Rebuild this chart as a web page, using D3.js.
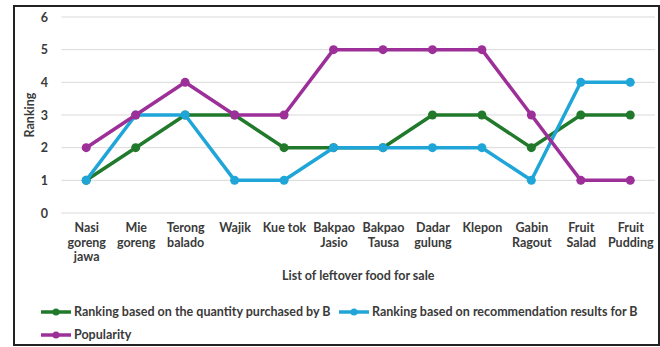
<!DOCTYPE html>
<html>
<head>
<meta charset="utf-8">
<script src="https://cdn.jsdelivr.net/npm/d3@7"></script>
<style>
  html, body { margin: 0; padding: 0; background: #fff; }
  svg { display: block; }
  text { font-family: Lato, "Noto Sans", sans-serif; font-weight: 700; fill: #3a3a3a; }
</style>
</head>
<body>
<svg id="chart" width="660" height="347"></svg>
<script>
// Food items (x categories); line breaks as shown under the axis
const categories = [
  ["Nasi", "goreng", "jawa"],
  ["Mie", "goreng"],
  ["Terong", "balado"],
  ["Wajik"],
  ["Kue tok"],
  ["Bakpao", "Jasio"],
  ["Bakpao", "Tausa"],
  ["Dadar", "gulung"],
  ["Klepon"],
  ["Gabin", "Ragout"],
  ["Fruit", "Salad"],
  ["Fruit", "Pudding"]
];

const quantityRanking = [1, 2, 3, 3, 2, 2, 2, 3, 3, 2, 3, 3];
const recommendationRanking = [1, 3, 3, 1, 1, 2, 2, 2, 2, 1, 4, 4];
const popularity = [2, 3, 4, 3, 3, 5, 5, 5, 5, 3, 1, 1];

const yTicks = [0, 1, 2, 3, 4, 5, 6];

const seriesNames = [
  "Ranking based on the quantity purchased by B",
  "Ranking based on recommendation results for B",
  "Popularity"
];
const seriesColors = ["#217a2b", "#1fa5d8", "#9c2f98"];
const seriesValues = [quantityRanking, recommendationRanking, popularity];

const FONT = 12.5;
const svg = d3.select("#chart");

// Outer frame
svg.append("rect")
  .attr("x", 14).attr("y", 6)
  .attr("width", 645).attr("height", 339)
  .attr("fill", "#fff")
  .attr("stroke", "#222").attr("stroke-width", 2);

const plot = { left: 61.5, right: 655, top: 17, bottom: 213 };

const x = d3.scalePoint()
  .domain(d3.range(categories.length))
  .range([plot.left, plot.right])
  .padding(0.5);

const y = d3.scaleLinear()
  .domain([0, 6])
  .range([plot.bottom, plot.top]);

// Horizontal gridlines
svg.append("g")
  .selectAll("line")
  .data(yTicks)
  .join("line")
  .attr("x1", plot.left).attr("x2", plot.right)
  .attr("y1", d => y(d)).attr("y2", d => y(d))
  .attr("stroke", "#d9d9d9").attr("stroke-width", 1);

// Y axis labels
const yAxis = d3.axisLeft(y).tickValues(yTicks).tickFormat(d3.format("d")).tickSize(0).tickPadding(0);
const gy = svg.append("g").attr("transform", `translate(48,0)`).call(yAxis);
gy.select(".domain").remove();
gy.selectAll("text")
  .attr("font-size", FONT)
  .attr("font-family", "Lato, 'Noto Sans', sans-serif")
  .attr("font-weight", 700)
  .attr("fill", "#3a3a3a");

svg.append("text")
  .attr("transform", `translate(34,115) rotate(-90)`)
  .attr("text-anchor", "middle")
  .attr("font-size", FONT)
  .text("Ranking");

// X axis category labels
const xAxis = d3.axisBottom(x).tickSize(0).tickFormat(() => "");
const gx = svg.append("g").attr("transform", `translate(0,${plot.bottom})`).call(xAxis);
gx.select(".domain").remove();
gx.selectAll(".tick").each(function(d) {
  const t = d3.select(this).append("text")
    .attr("text-anchor", "middle")
    .attr("font-size", FONT)
    .attr("y", 19);
  categories[d].forEach((line, i) => {
    t.append("tspan").attr("x", 0).attr("dy", i === 0 ? 0 : 14.5).text(line);
  });
});

svg.append("text")
  .attr("x", (plot.left + plot.right) / 2).attr("y", 280)
  .attr("text-anchor", "middle")
  .attr("font-size", FONT)
  .text("List of leftover food for sale");

// Series lines and markers
const line = d3.line()
  .x((d, i) => x(i))
  .y(d => y(d));

seriesValues.forEach((vals, s) => {
  const g = svg.append("g");
  g.append("path")
    .datum(vals)
    .attr("d", line)
    .attr("fill", "none")
    .attr("stroke", seriesColors[s])
    .attr("stroke-width", 3.5)
    .attr("stroke-linejoin", "round");
  g.selectAll("circle")
    .data(vals)
    .join("circle")
    .attr("cx", (d, i) => x(i))
    .attr("cy", d => y(d))
    .attr("r", 4.5)
    .attr("fill", seriesColors[s]);
});

// Legend
const legendItems = [
  { i: 0, x: 41, y: 312 },
  { i: 1, x: 339, y: 312 },
  { i: 2, x: 41, y: 335 }
];
const lg = svg.append("g").selectAll("g")
  .data(legendItems)
  .join("g")
  .attr("transform", d => `translate(${d.x},${d.y})`);
lg.append("line")
  .attr("x1", 0).attr("x2", 30)
  .attr("stroke", d => seriesColors[d.i])
  .attr("stroke-width", 3.5);
lg.append("circle")
  .attr("cx", 15).attr("r", 3.5)
  .attr("fill", d => seriesColors[d.i]);
lg.append("text")
  .attr("x", 33).attr("dy", "0.35em")
  .attr("font-size", FONT)
  .text(d => seriesNames[d.i]);
</script>
</body>
</html>
